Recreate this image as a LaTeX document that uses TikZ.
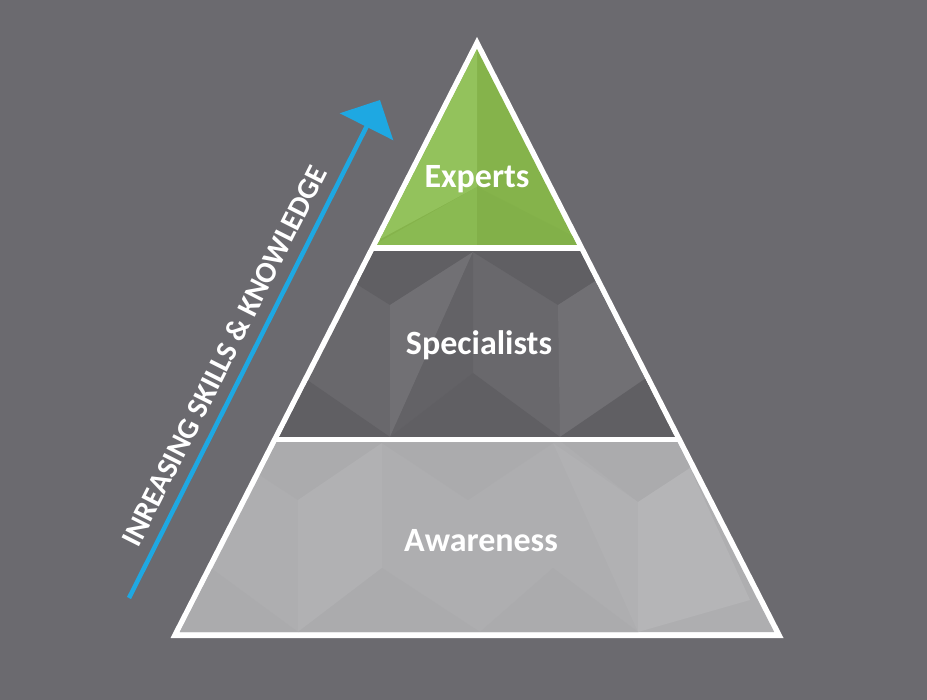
\documentclass[tikz,border=0pt]{standalone}
\usepackage{fontspec}
\setmainfont{Carlito}
\usetikzlibrary{arrows.meta}
\definecolor{bg}{HTML}{6B6A6F}
\definecolor{gUL}{HTML}{93C25C}
\definecolor{gR}{HTML}{85B34B}
\definecolor{gLL}{HTML}{8ABA52}
\definecolor{gLR}{HTML}{82B049}
\definecolor{sM}{HTML}{69686C}
\definecolor{sD}{HTML}{605F63}
\definecolor{sL}{HTML}{717074}
\definecolor{sX}{HTML}{636266}
\definecolor{aM}{HTML}{AEAEB0}
\definecolor{aD}{HTML}{ABABAD}
\definecolor{aL}{HTML}{B1B1B3}
\definecolor{aLL}{HTML}{B5B5B7}
\definecolor{arrowblue}{HTML}{1EA8E2}
\begin{document}
\begin{tikzpicture}[x=1pt,y=-1pt,
  layerlabel/.style={text=white,font=\bfseries\fontsize{34}{40}\selectfont,anchor=base,inner sep=0pt},
  sidelabel/.style={text=white,font=\bfseries\fontsize{30}{36}\selectfont,inner sep=0pt,rotate=63.25},
  riser/.style={draw=arrowblue,line width=4.5pt,-{Triangle[length=30pt,width=59pt]}}]
\fill[bg] (0,0) rectangle (927,700);
\useasboundingbox (0,0) rectangle (927,700);
% white frame
\fill[white] (477,37) -- (170.5,638) -- (783.5,638) -- cycle;
\begin{scope}
\clip (477,49.2) -- (179.8,632) -- (774.2,632) -- cycle;
% ---- Experts band
\begin{scope}
\clip (0,0) rectangle (927,245);
\fill[gR] (300,30) rectangle (660,250);
\fill[gUL] (477,30) -- (477,187) -- (360,250) -- (360,30) -- cycle;
\fill[gLL] (365,250) -- (477,187) -- (477,250) -- cycle;
\fill[gLR] (477,187) -- (600,250) -- (477,250) -- cycle;
\end{scope}
% ---- Specialists band
\begin{scope}
\clip (0,252) rectangle (927,437);
\fill[sM] (250,240) rectangle (700,445);
\fill[sD] (330,240) -- (473,240) -- (473,252) -- (390,305) -- (350,280) -- cycle;
\fill[sL] (390,305) -- (473,252) -- (390,437) -- cycle;
\fill[sX] (473,252) -- (473,373) -- (390,437) -- cycle;
\fill[sD] (473,240) -- (620,240) -- (600,278) -- (558,305) -- (473,252) -- cycle;
\fill[sL] (558,305) -- (600,278) -- (655,385) -- (560,437) -- cycle;
\fill[sD] (300,375) -- (390,437) -- (250,445) -- cycle;
\fill[sD] (390,437) -- (473,373) -- (560,437) -- cycle;
\fill[sD] (560,437) -- (655,372) -- (700,445) -- cycle;
\end{scope}
% ---- Awareness band
\begin{scope}
\clip (0,443) rectangle (927,632);
\fill[aM] (150,435) rectangle (800,645);
\fill[aD] (255,435) -- (382,435) -- (382,443) -- (298,500) -- (255,472) -- cycle;
\fill[aL] (298,500) -- (382,443) -- (382,568) -- (298,632) -- cycle;
\fill[aD] (200,560) -- (298,632) -- (298,645) -- (160,645) -- cycle;
\fill[aD] (382,443) -- (553,443) -- (468,500) -- cycle;
\fill[aD] (553,435) -- (700,435) -- (690,468) -- (638,502) -- cycle;
\fill[aL] (553,443) -- (638,502) -- (638,632) -- cycle;
\fill[aLL] (638,502) -- (690,468) -- (750,600) -- (638,632) -- cycle;
\fill[aD] (298,632) -- (382,568) -- (480,632) -- cycle;
\fill[aD] (480,632) -- (553,568) -- (638,632) -- cycle;
\end{scope}
\end{scope}
% labels
\node[layerlabel] (experts) at (477,188) {Experts};
\node[layerlabel] (specialists) at (479,355) {Specialists};
\node[layerlabel] (awareness) at (481,551) {Awareness};
% rising arrow
\coordinate (rstart) at (129,598);
\coordinate (rtip) at (380,100);
\draw[riser] (rstart) -- (rtip);
\node[sidelabel] (riselabel) at (224,356) {INREASING SKILLS \& KNOWLEDGE};
\end{tikzpicture}
\end{document}
